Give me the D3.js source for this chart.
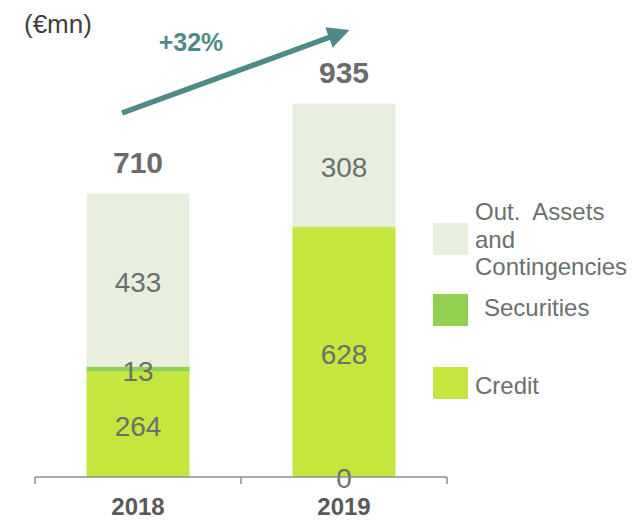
<!DOCTYPE html>
<html>
<head>
<meta charset="utf-8">
<script src="https://cdn.jsdelivr.net/npm/d3@7"></script>
<style>
  body { margin: 0; background: #fff; }
  text { font-family: "Liberation Sans", Arial, sans-serif; }
</style>
</head>
<body>
<svg id="chart" width="642" height="520"></svg>
<script>
// chart values
let years = ["2018", "2019"];
let credit = [264, 628];
let securities = [13, 0];
let outAssets = [433, 308];
let totals = [710, 935];
let seriesNames = ["Out.  Assets and Contingencies", "Securities", "Credit"];

let svg = d3.select("#chart");

let baseY = 477;

// scales
let xScale = d3.scaleBand()
    .domain(years)
    .range([35, 447])
    .paddingInner(0.5)
    .paddingOuter(0.25);

let yScale = d3.scaleLinear()
    .domain([0, 935])
    .range([baseY, 104]);

let colors = { credit: "#c5e63c", securities: "#92d050", out: "#e9efdf" };

// stack the data
let rows = years.map((y, i) => ({ year: y, credit: credit[i], securities: securities[i], out: outAssets[i] }));
let stack = d3.stack().keys(["credit", "securities", "out"]);
let layers = stack(rows);

svg.append("g").selectAll("g")
    .data(layers)
    .join("g")
    .attr("fill", d => colors[d.key])
    .selectAll("rect")
    .data(d => d)
    .join("rect")
    .attr("x", d => xScale(d.data.year))
    .attr("y", d => yScale(d[1]))
    .attr("width", xScale.bandwidth())
    .attr("height", d => yScale(d[0]) - yScale(d[1]));

// segment labels
svg.append("g").selectAll("g")
    .data(layers)
    .join("g")
    .selectAll("text")
    .data(d => d)
    .join("text")
    .attr("x", d => xScale(d.data.year) + xScale.bandwidth() / 2)
    .attr("y", d => (d[1] - d[0]) === 0 ? baseY + 11 : yScale((d[0] + d[1]) / 2) + 12)
    .attr("text-anchor", "middle")
    .attr("font-size", 28)
    .attr("fill", "#6b6f6e")
    .text(d => d[1] - d[0]);

// totals
svg.append("g").selectAll("text")
    .data(totals)
    .join("text")
    .attr("x", (d, i) => xScale(years[i]) + xScale.bandwidth() / 2)
    .attr("y", d => yScale(d) - 21)
    .attr("text-anchor", "middle")
    .attr("font-size", 30)
    .attr("font-weight", "bold")
    .attr("fill", "#6b6b6b")
    .text(d => d);

// x axis
let xAxis = svg.append("g")
    .attr("transform", "translate(0," + baseY + ")")
    .call(d3.axisBottom(xScale).tickSize(0).tickPadding(21));
xAxis.select(".domain").remove();
xAxis.append("line")
    .attr("x1", 35).attr("x2", 447)
    .attr("stroke", "#8c8c8c").attr("stroke-width", 1.5);
xAxis.selectAll(".sep")
    .data([35, 241, 447])
    .join("line")
    .attr("x1", d => d).attr("x2", d => d)
    .attr("y1", 0).attr("y2", 7)
    .attr("stroke", "#8c8c8c").attr("stroke-width", 1.5);
xAxis.selectAll(".tick text")
    .attr("font-size", 24)
    .attr("font-weight", "bold")
    .attr("fill", "#595959")
    .attr("font-family", "Liberation Sans, Arial, sans-serif");

// unit label
svg.append("text")
    .attr("x", 24).attr("y", 33)
    .attr("font-size", 26)
    .attr("fill", "#404040")
    .text("(€mn)");

// growth arrow
let defs = svg.append("defs");
defs.append("marker")
    .attr("id", "head")
    .attr("viewBox", "0 0 10 10")
    .attr("refX", 2).attr("refY", 5)
    .attr("markerWidth", 4)
    .attr("markerHeight", 4)
    .attr("orient", "auto")
    .append("path")
    .attr("d", "M0,0 L10,5 L0,10 Z")
    .attr("fill", "#4e8a87");

svg.append("line")
    .attr("x1", 122).attr("y1", 113)
    .attr("x2", 333).attr("y2", 36)
    .attr("stroke", "#4e8a87")
    .attr("stroke-width", 5.5)
    .attr("marker-end", "url(#head)");

svg.append("text")
    .attr("x", 191).attr("y", 51)
    .attr("text-anchor", "middle")
    .attr("font-size", 25)
    .attr("font-weight", "bold")
    .attr("fill", "#4e8a87")
    .text("+32%");

// legend
let legend = svg.append("g");
legend.append("rect").attr("x", 433).attr("y", 223).attr("width", 35).attr("height", 32).attr("fill", colors.out);
legend.append("rect").attr("x", 433).attr("y", 294).attr("width", 35).attr("height", 32).attr("fill", colors.securities);
legend.append("rect").attr("x", 433).attr("y", 367).attr("width", 35).attr("height", 32).attr("fill", colors.credit);

let outText = legend.append("text")
    .attr("font-size", 24)
    .attr("fill", "#6b6f6e");
["Out.  Assets", "and", "Contingencies"].forEach((t, i) => {
    outText.append("tspan")
        .attr("x", 475)
        .attr("y", 220 + i * 27.5)
        .style("white-space", "pre")
        .text(t);
});
legend.append("text")
    .attr("x", 484).attr("y", 316)
    .attr("font-size", 24)
    .attr("fill", "#6b6f6e")
    .text(seriesNames[1]);
legend.append("text")
    .attr("x", 475).attr("y", 394)
    .attr("font-size", 24)
    .attr("fill", "#6b6f6e")
    .text(seriesNames[2]);
</script>
</body>
</html>
